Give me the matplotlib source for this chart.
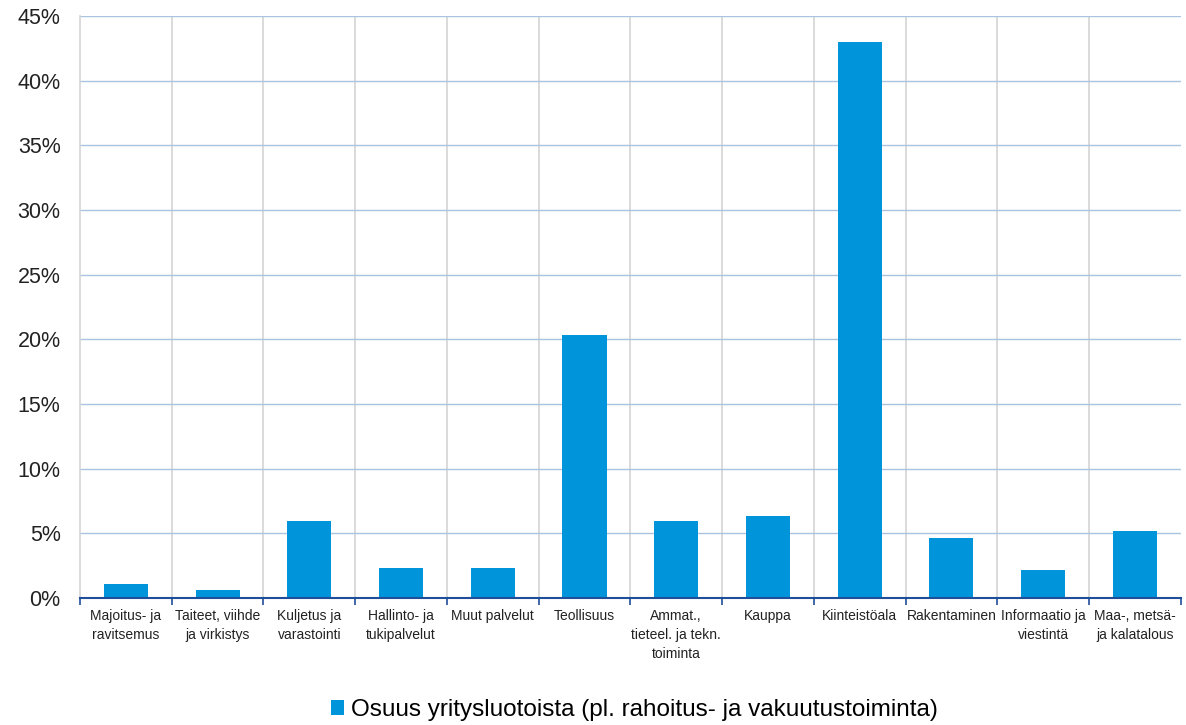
import numpy as np
import matplotlib.pyplot as plt
from matplotlib.ticker import FuncFormatter, FixedLocator

plt.rcParams['font.family'] = ['Liberation Sans', 'DejaVu Sans']

# toimialat ja osuudet yritysluotoista (%)
toimialat = [
    "Majoitus- ja\nravitsemus",
    "Taiteet, viihde\nja virkistys",
    "Kuljetus ja\nvarastointi",
    "Hallinto- ja\ntukipalvelut",
    "Muut palvelut",
    "Teollisuus",
    "Ammat.,\ntieteel. ja tekn.\ntoiminta",
    "Kauppa",
    "Kiinteistöala",
    "Rakentaminen",
    "Informaatio ja\nviestintä",
    "Maa-, metsä-\nja kalatalous",
]
osuudet = [1.1, 0.6, 5.95, 2.3, 2.3, 20.3, 6.0, 6.35, 43.0, 4.65, 2.15, 5.2]
sarja = "Osuus yritysluotoista (pl. rahoitus- ja vakuutustoiminta)"

fig = plt.figure(figsize=(11.86, 7.25), dpi=100)
ax = fig.add_axes([0.0675, 0.175, 0.928, 0.803])

x = np.arange(len(toimialat))
ax.bar(x, osuudet, width=0.48, color="#0095DA", label=sarja, zorder=3)

ax.set_xlim(-0.5, len(toimialat) - 0.5)
ax.set_ylim(0, 45)
ax.set_yticks(np.arange(0, 46, 5))
ax.yaxis.set_major_formatter(FuncFormatter(lambda v, p: f"{v:.0f}%"))
ax.tick_params(axis="y", length=0, labelsize=15.5, pad=14, colors="#222222")
ax.grid(axis="y", color="#A9C4E0", linewidth=1, zorder=0)

# pystyviivat ja pykälät luokkien rajoilla
rajat = np.arange(-0.5, len(toimialat), 1.0)
ax.xaxis.set_minor_locator(FixedLocator(rajat))
ax.xaxis.set_major_locator(FixedLocator(x))
ax.set_xticklabels(toimialat, fontsize=10, color="#222222", linespacing=1.45)
ax.tick_params(axis="x", which="major", length=0, pad=8)
ax.tick_params(axis="x", which="minor", length=5, direction="out", color="#1F4E9A", width=1.2)
for r in rajat[1:-1]:
    ax.axvline(r, color="#D4D4D4", linewidth=1.2, zorder=1)

for s in ["top", "right"]:
    ax.spines[s].set_visible(False)
ax.spines["left"].set_color("#D4D4D4")
ax.spines["left"].set_linewidth(1.2)
ax.spines["bottom"].set_color("#1F4E9A")
ax.spines["bottom"].set_linewidth(1.5)
ax.spines["bottom"].set_zorder(4)

fig.legend(loc="lower center", bbox_to_anchor=(0.535, -0.025), frameon=False,
           fontsize=17.5, handlelength=0.55, handleheight=0.55, handletextpad=0.3)

fig.savefig("out.png", dpi=100)
